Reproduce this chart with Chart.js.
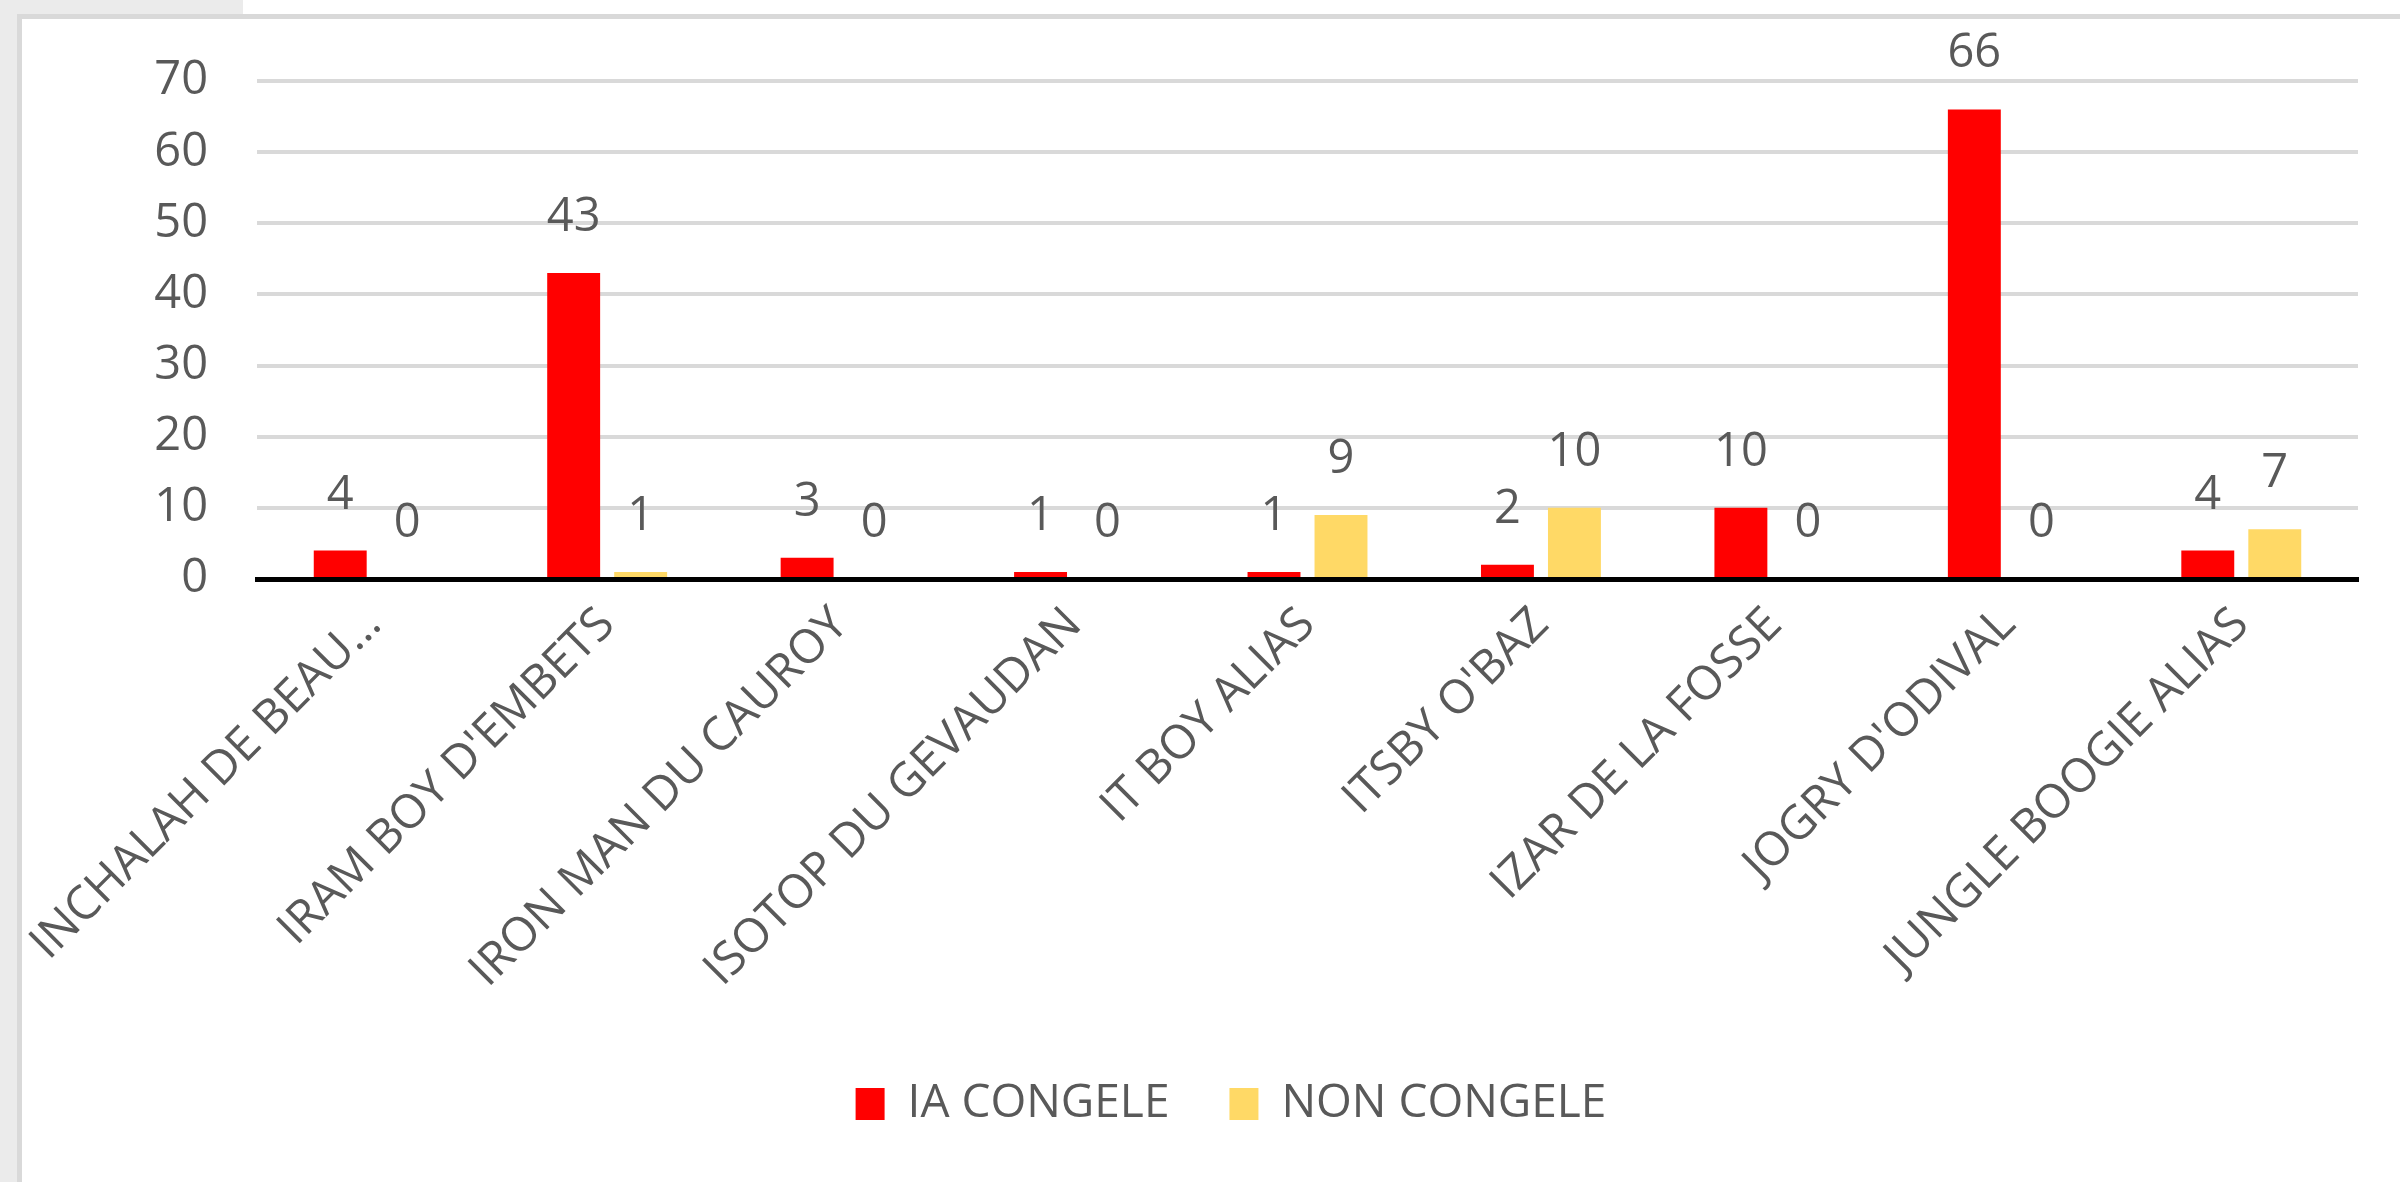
<!DOCTYPE html>
<html>
<head>
<meta charset="utf-8">
<script src="https://cdn.jsdelivr.net/npm/chart.js@4.4.0/dist/chart.umd.min.js"></script>
<style>
  body { margin: 0; background: #fff; overflow: hidden; width: 2400px; height: 1182px; position: relative; }
  #side { position: absolute; left: 0; top: 0; width: 17px; height: 1182px; background: #ebebeb; }
  #topband { position: absolute; left: 0; top: 0; width: 243px; height: 14px; background: #ebebeb; }
  #card { position: absolute; left: 17px; top: 14px; width: 2400px; height: 1200px; border-left: 5px solid #d9d9d9; border-top: 5px solid #d9d9d9; background: #fff; }
  #wrap { position: absolute; left: 22px; top: 19px; }
</style>
</head>
<body>
<div id="side"></div>
<div id="topband"></div>
<div id="card"></div>
<div id="wrap"><canvas id="chart" width="2418" height="1163"></canvas></div>
<script>
const categories = ['INCHALAH DE BEAU…', "IRAM BOY D'EMBETS", 'IRON MAN DU CAUROY', 'ISOTOP DU GEVAUDAN',
    'IT BOY ALIAS', "ITSBY O'BAZ", 'IZAR DE LA FOSSE', "JOGRY D'ODIVAL", 'JUNGLE BOOGIE ALIAS'];
const iaCongele = [4, 43, 3, 1, 1, 2, 10, 66, 4];
const nonCongele = [0, 1, 0, 0, 9, 10, 0, 0, 7];
const yTicks = [0, 10, 20, 30, 40, 50, 60, 70];

const textColor = '#595959';
const fontFamily = "'Open Sans', sans-serif";

// value labels above each bar, like Excel's "outside end"
const valueLabels = {
    id: 'valueLabels',
    afterDatasetsDraw(chart) {
        const ctx = chart.ctx;
        ctx.save();
        ctx.font = '47px ' + fontFamily;
        ctx.fillStyle = textColor;
        ctx.textAlign = 'center';
        ctx.textBaseline = 'alphabetic';
        chart.data.datasets.forEach((ds, i) => {
            chart.getDatasetMeta(i).data.forEach((bar, j) => {
                ctx.fillText(ds.data[j], bar.x, bar.y - 42);
            });
        });
        ctx.restore();
    }
};

Chart.defaults.font.family = fontFamily;
Chart.defaults.color = textColor;

const ctx = document.getElementById('chart').getContext('2d');
new Chart(ctx, {
    type: 'bar',
    data: {
        labels: categories,
        datasets: [{
            label: 'IA CONGELE',
            data: iaCongele,
            backgroundColor: '#ff0000',
            barPercentage: 0.79,
            categoryPercentage: 0.574
        }, {
            label: 'NON CONGELE',
            data: nonCongele,
            backgroundColor: '#ffd966',
            barPercentage: 0.79,
            categoryPercentage: 0.574
        }]
    },
    options: {
        responsive: false,
        animation: false,
        layout: {
            padding: { left: 82, top: 62, right: 82, bottom: 45 }
        },
        plugins: {
            tooltip: { enabled: false },
            legend: {
                position: 'bottom',
                labels: {
                    boxWidth: 29,
                    boxHeight: 32,
                    padding: 60,
                    color: textColor,
                    font: { size: 46 }
                }
            }
        },
        scales: {
            x: {
                grid: { display: false },
                border: { display: true, color: '#000', width: 5, z: 1 },
                ticks: {
                    minRotation: 45,
                    maxRotation: 45,
                    autoSkip: false,
                    padding: 10,
                    color: textColor,
                    font: { size: 47 }
                },
                afterFit: function(scale) {
                    scale.height = 442;
                    scale.paddingLeft = 0;
                    scale.paddingRight = 0;
                }
            },
            y: {
                min: 0,
                max: 70,
                afterBuildTicks: function(scale) {
                    scale.ticks = yTicks.map(v => ({ value: v }));
                },
                grid: { color: '#d9d9d9', lineWidth: 4, drawTicks: false },
                border: { display: false },
                ticks: {
                    padding: 49,
                    color: textColor,
                    font: { size: 47 }
                },
                afterFit: function(scale) {
                    scale.width = 153;
                    scale.paddingTop = 0;
                    scale.paddingBottom = 0;
                }
            }
        }
    },
    plugins: [valueLabels]
});
</script>
</body>
</html>
